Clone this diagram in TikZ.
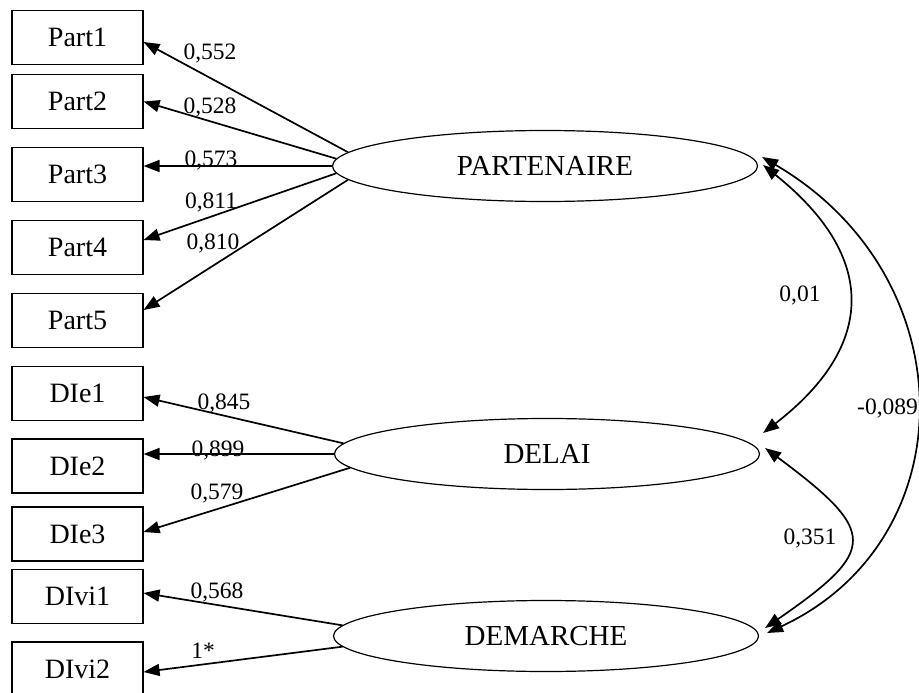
\documentclass[tikz,border=0pt]{standalone}
\usepackage{fontspec}
\setmainfont{Liberation Serif}
\usetikzlibrary{arrows.meta,shapes.geometric}
\begin{document}
\begin{tikzpicture}[x=1pt,y=-1pt,
  obs/.style={draw,line width=1.1pt,minimum width=131pt,minimum height=54pt,inner sep=0pt,font=\fontsize{28}{30}\selectfont},
  lat/.style={draw,ellipse,line width=1.2pt,minimum width=425pt,minimum height=71pt,inner sep=0pt,font=\fontsize{29}{32}\selectfont},
  load/.style={line width=1.7pt,-{Triangle[length=16pt,width=12pt]}},
  cov/.style={line width=1.7pt,{Triangle[length=16pt,width=12pt]}-{Triangle[length=16pt,width=12pt]}},
  coef/.style={font=\fontsize{23.5}{26}\selectfont,inner sep=0pt}]
\useasboundingbox (0,0) rectangle (919,693);
\fill[white] (0,0) rectangle (919,693);
% observed variables
\node[obs] (p1) at (77.5,37.5) {Part1};
\node[obs] (p2) at (77.5,101.5) {Part2};
\node[obs] (p3) at (77.5,174.5) {Part3};
\node[obs] (p4) at (77.5,247.5) {Part4};
\node[obs] (p5) at (77.5,320.5) {Part5};
\node[obs] (d1) at (77.5,393.5) {DIe1};
\node[obs] (d2) at (77.5,466) {DIe2};
\node[obs] (d3) at (77.5,534) {DIe3};
\node[obs] (v1) at (77.5,596.5) {DIvi1};
\node[obs] (v2) at (77.5,669) {DIvi2};
% latent variables
\node[lat] (P) at (545,166) {PARTENAIRE};
\node[lat] (D) at (547,454) {DELAI};
\node[lat] (M) at (546,636) {DEMARCHE};
% loadings
\draw[load] (P.176) -- ([yshift=-4.5pt]p1.east);
\draw[load] (P.178.5) -- (p2.east);
\draw[load] (P.west) -- (P.west -| p3.east);
\draw[load] (P.182.5) -- ([yshift=7.5pt]p4.east);
\draw[load] (P.184) -- ([yshift=10.5pt]p5.east);
\draw[load] (D.177.5) -- ([yshift=-3.5pt]d1.east);
\draw[load] (D.west) -- (D.west -| d2.east);
\draw[load] (D.184) -- ([yshift=2pt]d3.east);
\draw[load] (M.177.5) -- ([yshift=3.5pt]v1.east);
\draw[load] (M.183.5) -- ([yshift=-3pt]v2.east);
% loading labels
\node[coef] (l1) at (210,53) {0,552};
\node[coef] (l2) at (210,107) {0,528};
\node[coef] (l3) at (211,160) {0,573};
\node[coef] (l4) at (211,202) {0,811};
\node[coef] (l5) at (213,243) {0,810};
\node[coef] (l6) at (224,403) {0,845};
\node[coef] (l7) at (218,450) {0,899};
\node[coef] (l8) at (217,493) {0,579};
\node[coef] (l9) at (217,592) {0,568};
\node[coef] (l10) at (203,651) {1*};
% covariances
\draw[cov] ([xshift=5pt,yshift=1pt]P.east) .. controls (877,256) and (877,345) .. ([xshift=3pt,yshift=21pt]D.east);
\draw[cov] ([xshift=5pt,yshift=6pt]D.east) .. controls (878,532) and (878,550) .. ([xshift=6pt,yshift=8pt]M.east);
\draw[cov] ([xshift=4pt,yshift=9pt]P.east) .. controls (967,277) and (967,540) .. ([xshift=8pt,yshift=3pt]M.east);
\node[coef] (c01) at (800,295) {0,01};
\node[coef] (c351) at (810,538) {0,351};
\node[coef,anchor=west] (c089) at (857,408) {-0,089};
\end{tikzpicture}
\end{document}
